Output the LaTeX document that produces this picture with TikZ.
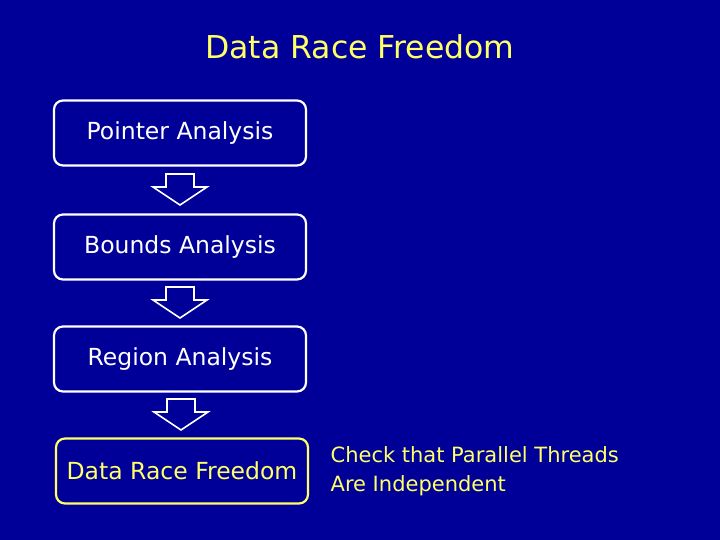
\documentclass[tikz,border=0pt]{standalone}
\usepackage{fontspec}
\setmainfont{DejaVu Sans}
\usetikzlibrary{positioning,calc}
\definecolor{slidebg}{RGB}{0,0,153}
\definecolor{slideyellow}{RGB}{255,255,102}
\tikzset{
	stagebox/.style={draw=white, line width=2.2pt, rounded corners=9pt, minimum width=252pt, minimum height=65pt, text=white, font=\fontsize{23.5}{26}\selectfont, inner sep=0pt},
	flowarrow/.style={draw=white, line width=1.6pt, fill=slidebg, line join=miter}
}
\begin{document}
\begin{tikzpicture}[x=1pt,y=-1pt]
	\fill[slidebg] (0,0) rectangle (720,540);
	\useasboundingbox (0,0) rectangle (720,540);
	
	\node[text=slideyellow, font=\fontsize{31.5}{36}\selectfont] (title) at (360,47) {Data Race Freedom};
	
	\node[stagebox] (pointer) at (180,133) {Pointer Analysis};
	\node[stagebox] (bounds) at (180,247) {Bounds Analysis};
	\node[stagebox] (region) at (180,359) {Region Analysis};
	\node[stagebox, draw=slideyellow, text=slideyellow] (race) at (182,471) {Data Race Freedom};
	
	% block arrows between stages
	\foreach \a/\b in {pointer/bounds, bounds/region, region/race}{
		\coordinate (mid) at ($(\a.south)!0.5!(\b.north)$);
		\draw[flowarrow] ($(mid)+(-14,-16)$) -- ($(mid)+(14,-16)$) -- ($(mid)+(14,-3)$) -- ($(mid)+(27,-3)$)
			-- ($(mid)+(0,15)$) -- ($(mid)+(-27,-3)$) -- ($(mid)+(-14,-3)$) -- cycle;
	}
	
	\node[right=18pt of race, align=left, text=slideyellow, font=\fontsize{21}{29}\selectfont] (note) {Check that Parallel Threads\\Are Independent};
\end{tikzpicture}
\end{document}
